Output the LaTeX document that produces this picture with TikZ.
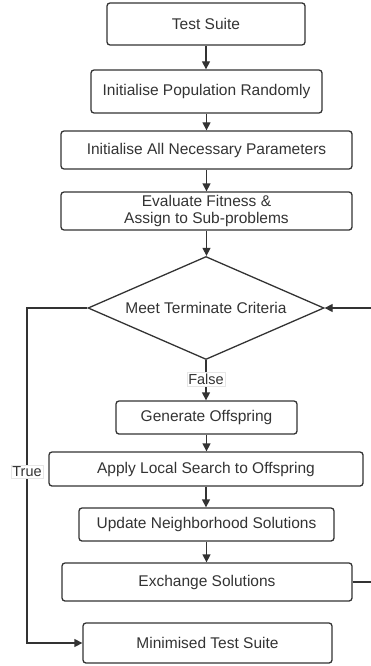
\documentclass[tikz,border=0pt]{standalone}
\usepackage{fontspec}
\setmainfont{Liberation Sans}
\usetikzlibrary{shapes.geometric,arrows.meta}
\definecolor{ink}{HTML}{333333}
\definecolor{lblframe}{HTML}{E6E6E6}
\tikzset{
  procbox/.style={draw=ink, line width=1.3pt, rounded corners=3pt, rectangle,
    inner sep=0pt, align=center, font=\fontsize{15.5}{17}\selectfont, text=ink},
  decision/.style={draw=ink, line width=1.3pt, diamond, aspect=2.29, inner sep=0pt,
    font=\fontsize{15.5}{17}\selectfont, text=ink},
  flow/.style={draw=ink, line width=1.3pt, -{Triangle[length=8pt,width=8pt]}},
  lbl/.style={fill=white, draw=lblframe, line width=0.5pt, inner sep=1.5pt,
    font=\fontsize{14.5}{16}\selectfont, text=ink}
}
\begin{document}
\begin{tikzpicture}[x=1pt, y=-1pt]
  \clip (0,0) rectangle (371,666);
  \useasboundingbox (0,0) rectangle (371,666);

  % process steps
  \node[procbox, minimum width=198pt, minimum height=42pt] (ts)  at (206,24)    {Test Suite};
  \node[procbox, minimum width=231pt, minimum height=43pt] (pop) at (206.5,91.5) {Initialise Population Randomly};
  \node[procbox, minimum width=291pt, minimum height=38pt] (par) at (206.5,150)  {Initialise All Necessary Parameters};
  \node[procbox, minimum width=291pt, minimum height=38pt] (evl) at (206.5,211)  {Evaluate Fitness \&\\ Assign to Sub-problems};
  \node[decision, minimum width=236pt, minimum height=103pt] (dia) at (206,308) {Meet Terminate Criteria};
  \node[procbox, minimum width=181pt, minimum height=33pt] (gen) at (206.5,417.5) {Generate Offspring};
  \node[procbox, minimum width=314pt, minimum height=34pt] (als) at (206,469)    {Apply Local Search to Offspring};
  \node[procbox, minimum width=255pt, minimum height=33pt] (upd) at (206.5,524.5) {Update Neighborhood Solutions};
  \node[procbox, minimum width=290pt, minimum height=38pt] (exc) at (207,582)    {Exchange Solutions};
  \node[procbox, minimum width=249pt, minimum height=40pt] (mts) at (207.5,643)  {Minimised Test Suite};

  % routing columns for the side connectors
  \coordinate (truecol) at (27,0);
  \coordinate (loopcol) at (378,0);

  % main flow
  \draw[flow] (ts.south)  -- (ts.south |- pop.north);
  \draw[flow] (pop.south) -- (pop.south |- par.north);
  \draw[flow] (par.south) -- (par.south |- evl.north);
  \draw[flow] (evl.south) -- (evl.south |- dia.north);
  \draw[flow] (dia.south) -- (dia.south |- gen.north);
  \draw[flow] (gen.south) -- (gen.south |- als.north);
  \draw[flow] (als.south) -- (als.south |- upd.north);
  \draw[flow] (upd.south) -- (upd.south |- exc.north);

  % loop back to the decision
  \draw[flow] (exc.east) -- (exc.east -| loopcol) -- (dia.east -| loopcol) -- (dia.east);

  % exit when criteria are met
  \draw[flow] (dia.west) -- (dia.west -| truecol) -- (mts.west -| truecol) -- (mts.west);

  % branch labels
  \node[lbl] (falselbl) at (206,379) {False};
  \node[lbl] (truelbl)  at (27,472)  {True};
\end{tikzpicture}
\end{document}
